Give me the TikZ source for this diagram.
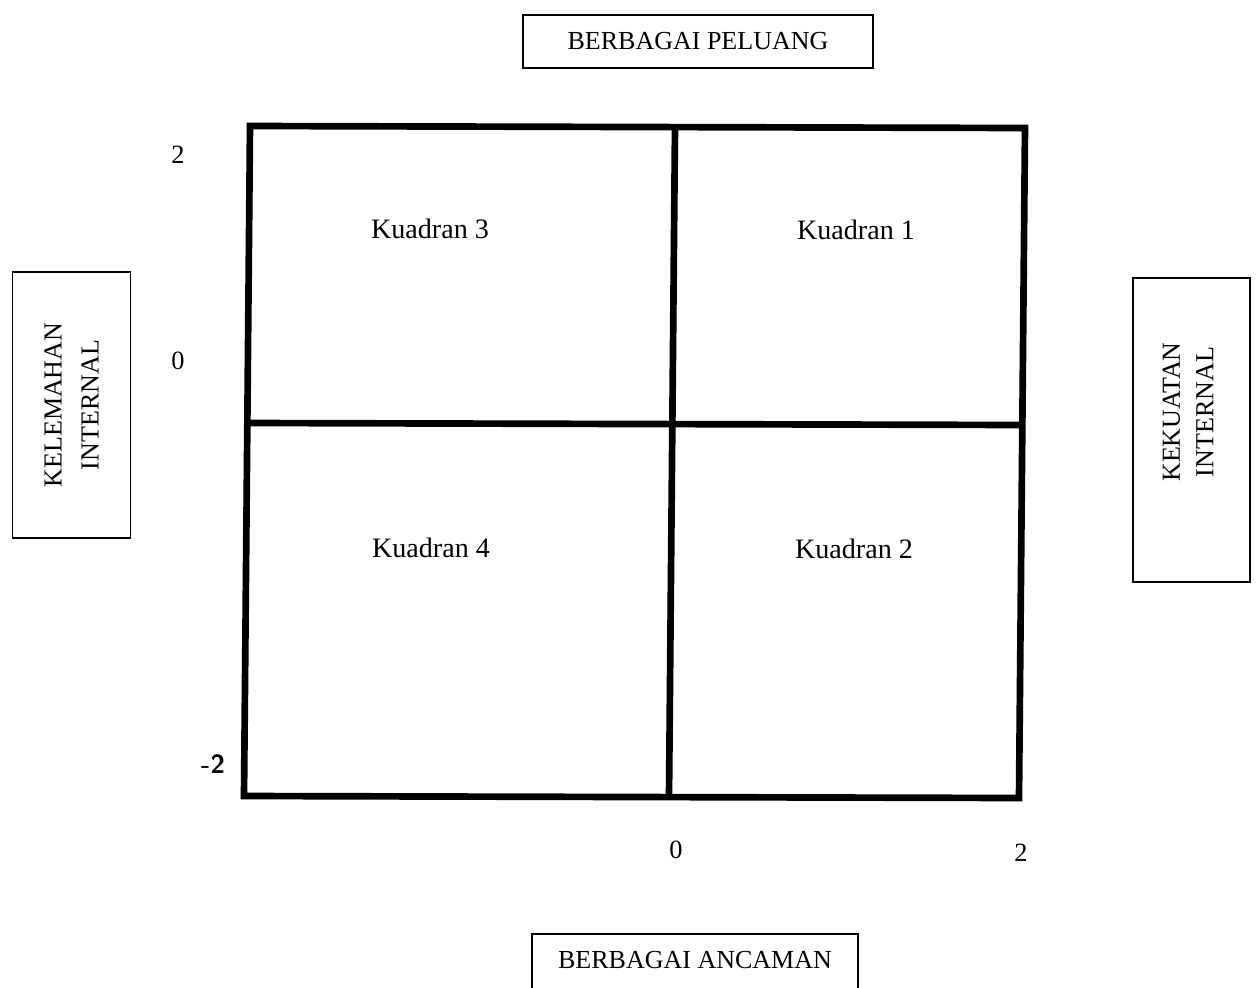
\documentclass[tikz,border=0pt]{standalone}
\usepackage{fontspec}
\setmainfont{Liberation Serif}
\usetikzlibrary{positioning,calc}

\begin{document}
\begin{tikzpicture}[x=0.02cm,y=-0.02cm,
    lbl/.style={font=\fontsize{14.8}{19}\selectfont,inner sep=0pt,align=center},
    kuad/.style={font=\fontsize{16}{19}\selectfont,inner sep=0pt},
    tick/.style={font=\fontsize{15}{17}\selectfont,inner sep=0pt},
    sidebox/.style={draw,line width=0.8pt,rotate=90,inner sep=0pt},
    grid/.style={line width=3.8pt}]
    \useasboundingbox (0,0) rectangle (1259,988);
    % faktor eksternal
    \node[lbl,draw,line width=0.8pt,minimum width=7cm,minimum height=1.06cm] (peluang) at (698,41.5) {BERBAGAI PELUANG};
    \node[lbl] (ancaman) at (695,960) {BERBAGAI ANCAMAN};
    \draw[line width=0.8pt] (532,988) |- (858,934) -- (858,988);
    % faktor internal
    \node[sidebox,lbl,font=\fontsize{14.8}{21}\selectfont,minimum width=5.32cm,minimum height=2.36cm] (lemah) at (71.5,405) {KELEMAHAN\\INTERNAL};
    \node[sidebox,minimum width=6.08cm,minimum height=2.34cm] (kuat) at (1191.5,430) {};
    \node[lbl,rotate=90] (kuattxt) at (1188,412) {KEKUATAN\\INTERNAL};
    % matriks
    \coordinate (tl) at (250,126);  \coordinate (tr) at (1025,128);
    \coordinate (br) at (1019,798); \coordinate (bl) at (244,796);
    \coordinate (tm) at (675,127);  \coordinate (bm) at (669,797);
    \coordinate (lm) at (249,423);  \coordinate (rm) at (1023,425);
    \draw[grid] (tl) -- (tr) -- (br) -- (bl) -- cycle;
    \draw[grid] (tm) -- (bm);
    \draw[grid] (lm) -- (rm);
    \node[kuad] (k3) at (430,229) {Kuadran 3};
    \node[kuad] (k1) at (856,230) {Kuadran 1};
    \node[kuad] (k4) at (431,548) {Kuadran 4};
    \node[kuad] (k2) at (854,549) {Kuadran 2};
    % skala
    \node[tick] (ya) at (178,155) {2};
    \node[tick] (yb) at (178,361) {0};
    \node[tick,font=\sffamily\bfseries\fontsize{15}{17}\selectfont] (yc) at (213,764) {-2};
    \node[tick] (xb) at (676,850) {0};
    \node[tick] (xa) at (1021,853) {2};
\end{tikzpicture}
\end{document}
